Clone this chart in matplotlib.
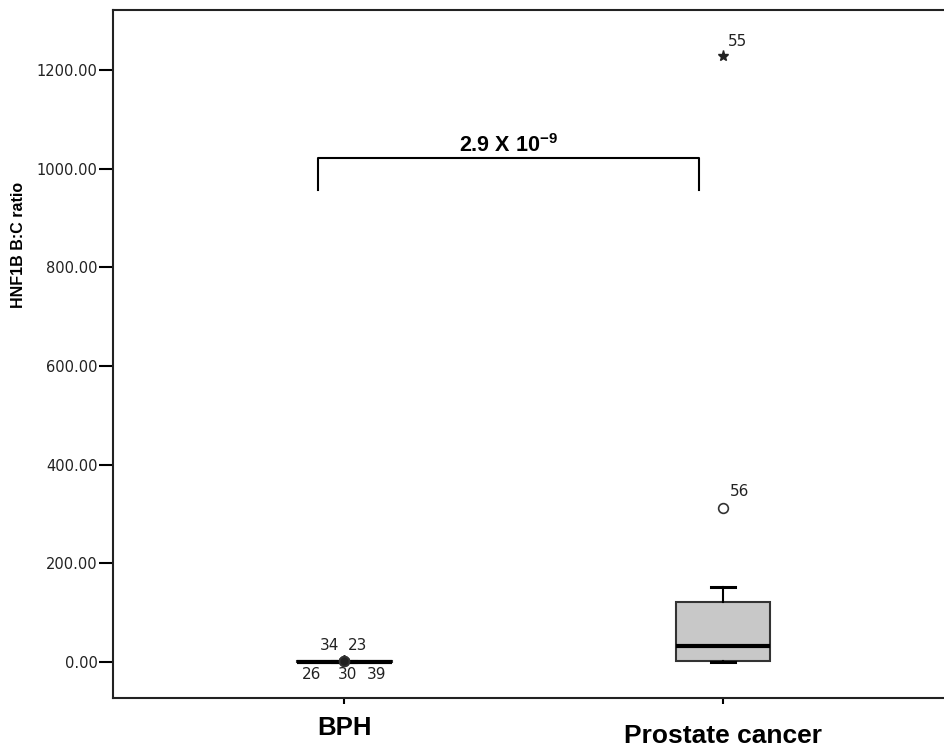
import matplotlib
matplotlib.use("Agg")
import matplotlib.pyplot as plt
import numpy as np

plt.rcParams['mathtext.fontset'] = 'custom'
plt.rcParams['mathtext.rm'] = 'Liberation Sans:bold'
plt.rcParams['mathtext.bf'] = 'Liberation Sans:bold'

# data (box summary per group)
groups = ['BPH', 'Prostate cancer']
q1 = [0.0, 2.0]
med = [0.5, 33.0]
q3 = [1.0, 122.0]
whis_lo = [0.0, 0.0]
whis_hi = [1.5, 151.0]

# outliers: (group index, value, case id, kind)
out_group = [0, 0, 0, 0, 0, 1, 1]
out_value = [3.0, 2.5, 2.0, 2.2, 2.8, 312.0, 1228.0]
out_id = ['34', '23', '26', '30', '39', '56', '55']
out_kind = ['*', '*', 'o', '*', 'o', 'o', '*']
# label offsets in pixels (style, not data)
out_offset = [(-15, 15), (13, 15), (-33, -14), (3, -14), (32, -14), (16, 17), (14, 15)]

y_ticks = [0, 200, 400, 600, 800, 1000, 1200]
p_text = r'2.9 X 10$^{-9}$'

fig = plt.figure(figsize=(9.44, 7.47), dpi=100)
ax = fig.add_axes([113 / 944, 49.5 / 747, 831 / 944, 687.5 / 747])

stats = []
for i in range(len(groups)):
    stats.append(dict(q1=q1[i], med=med[i], q3=q3[i], whislo=whis_lo[i],
                      whishi=whis_hi[i], fliers=[], label=groups[i]))

ax.bxp(stats, positions=[1, 2], widths=0.25, patch_artist=True,
       showfliers=False,
       boxprops=dict(facecolor='#c8c8c8', edgecolor='#333333', linewidth=1.5),
       medianprops=dict(color='black', linewidth=3),
       whiskerprops=dict(color='black', linewidth=1.5),
       capprops=dict(color='black', linewidth=2.2),
       capwidths=0.065)

# BPH box collapses to a line; outliers and extremes drawn on top
for i in range(len(out_group)):
    x = out_group[i] + 1
    y = out_value[i]
    if out_kind[i] == 'o':
        ax.plot(x, y, marker='o', ms=7, mfc='white' if out_group[i] == 1 else '#222222',
                mec='#333333', mew=1.2, zorder=5)
    else:
        ax.plot(x, y, marker='*', ms=8, color='#222222', zorder=5)
    ax.annotate(out_id[i], (x, y), xytext=out_offset[i], textcoords='offset pixels',
                ha='center', va='center', fontsize=11, color='#222222',
                family='DejaVu Sans')

# significance bracket
bx0, bx1, by0, by1 = 0.931, 1.937, 957, 1021
ax.plot([bx0, bx0, bx1, bx1], [by0, by1, by1, by0], color='black', lw=1.5)
ax.text((bx0 + bx1) / 2, 1034, p_text, ha='center', va='baseline',
        fontsize=15.5, fontweight='bold', family='Liberation Sans')

ax.set_xlim(0.39, 2.583)
ax.set_ylim(-72, 1321.6)
ax.set_yticks(y_ticks)
ax.set_yticklabels(['%.2f' % v for v in y_ticks], fontsize=10.5, color='#222222',
                   family='DejaVu Sans')
ax.tick_params(axis='y', length=10, width=1.5, pad=1)
ax.set_xticks([1, 2])
ax.set_xticklabels([])
ax.tick_params(axis='x', length=4, width=1.5)

label_y = [-0.0545, -0.0662]
label_size = [18.5, 19]
for i, g in enumerate(groups):
    ax.text(i + 1, label_y[i], g, transform=ax.get_xaxis_transform(),
            ha='center', va='baseline', fontsize=label_size[i], fontweight='bold',
            family='Liberation Sans')

fig.text(18.5 / 944, 1 - 245 / 747, 'HNF1B B:C ratio', rotation=90,
         ha='center', va='center', fontsize=11.5, fontweight='bold',
         family='Liberation Sans')

for s in ['left', 'top', 'bottom']:
    ax.spines[s].set_linewidth(1.5)
    ax.spines[s].set_color('#222222')
ax.spines['right'].set_visible(False)

fig.savefig('out.png', dpi=100)
